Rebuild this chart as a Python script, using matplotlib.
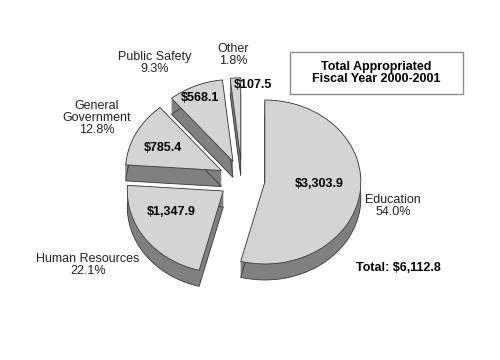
import matplotlib
matplotlib.use('Agg')
import matplotlib.pyplot as plt
from matplotlib.patches import Rectangle
import numpy as np

# ---- data ----
categories = ['Education', 'Human Resources', 'General\nGovernment', 'Public Safety', 'Other']
values = [3303.9, 1347.9, 785.4, 568.1, 107.5]
value_labels = ['$3,303.9', '$1,347.9', '$785.4', '$568.1', '$107.5']
pct_labels = ['54.0%', '22.1%', '12.8%', '9.3%', '1.8%']
total_label = 'Total: $6,112.8'
title_text = 'Total Appropriated\nFiscal Year 2000-2001'

plt.rcParams['font.family'] = ['Liberation Sans', 'DejaVu Sans']

W, H = 500, 360
fig = plt.figure(figsize=(5, 3.6), dpi=100)
ax = fig.add_axes([0, 0, 1, 1])

# geometry (pixels)
cx, cy = 242, 179.5
rx, ry = 96, 82
depth = 16 / ry
explode = [0.24] * len(values)
top_c = '#d4d4d4'
side_c = '#808080'
edge_c = '#3a3a3a'

def px(x, y):
    return ((x - cx) / rx, (cy - y) / ry)

common = dict(explode=explode, startangle=90, counterclock=False, radius=1)

# extruded sides
for d in np.linspace(depth, 0, 40):
    ax.pie(values, center=(0, -d), colors=[side_c] * len(values),
           wedgeprops=dict(linewidth=0), **common)
# bottom outline
ax.pie(values, center=(0, -depth),
       wedgeprops=dict(facecolor='none', edgecolor=edge_c, linewidth=0.6), **common)
# top faces
ax.pie(values, center=(0, 0), colors=[top_c] * len(values),
       wedgeprops=dict(edgecolor=edge_c, linewidth=0.6), **common)

ax.set_aspect('auto')
ax.set_xlim(-cx / rx, (W - cx) / rx)
ax.set_ylim((cy - H) / ry, cy / ry)
ax.axis('off')

# value labels
val_pos = [(319, 184), (171, 212), (163, 148), (200, 98), (253, 85)]
for lab, (x, y) in zip(value_labels, val_pos):
    ax.text(*px(x, y), lab, ha='center', va='center', fontsize=9,
            fontweight='bold', color='black')

# category labels
cat_pos = [(393, 206), (88, 265), (97, 118), (155, 63), (233, 55)]
for cat, pct, (x, y) in zip(categories, pct_labels, cat_pos):
    ax.text(*px(x, y), cat + '\n' + pct, ha='center', va='center',
            fontsize=9, color='#222222', linespacing=1.0)

ax.text(*px(398, 268), total_label, ha='center', va='center', fontsize=9,
        fontweight='bold', color='black')

# title box
x0, y0 = px(290, 94)
x1, y1 = px(463, 52)
ax.add_patch(Rectangle((x0, y0), x1 - x0, y1 - y0, facecolor='white',
                       edgecolor='#8c8c8c', linewidth=1.0))
ax.text(*px(376.5, 73), title_text, ha='center', va='center', fontsize=9,
        fontweight='bold', color='black', linespacing=1.0)

fig.savefig('out.png', dpi=100)
